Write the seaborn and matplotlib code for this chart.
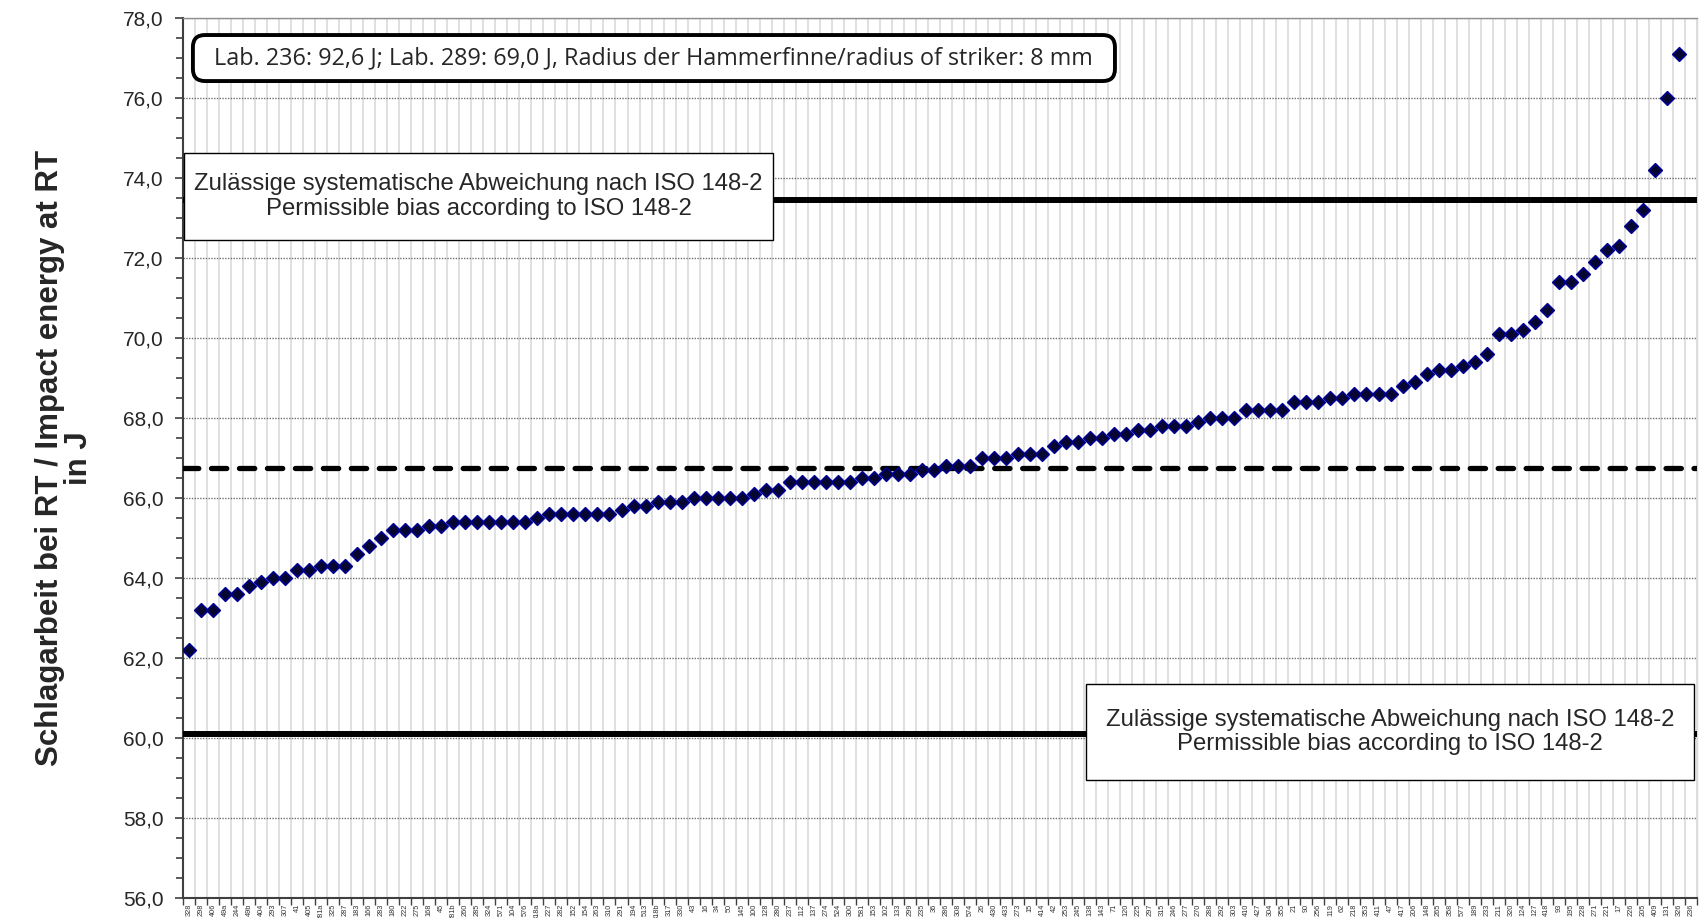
import numpy as np
import pandas as pd
import matplotlib
matplotlib.use("Agg")
import matplotlib.pyplot as plt
from matplotlib.patches import FancyBboxPatch
from matplotlib.ticker import MultipleLocator, FuncFormatter
import seaborn as sns

sns.set_theme(style="white")
plt.rcParams['font.family'] = ['Liberation Sans', 'DejaVu Sans']

# participating labs, sorted by result
labs = ["328", "298", "406", "49a", "244", "49b", "404", "293", "307", "41",
        "405", "281a", "325", "287", "183", "166", "283", "180", "222", "275",
        "168", "45", "281b", "260", "285", "324", "571", "104", "576", "318a",
        "227", "282", "152", "154", "263", "310", "291", "194", "513", "318b",
        "317", "330", "43", "16", "34", "50", "145", "100", "128", "280",
        "237", "112", "137", "274", "524", "300", "581", "153", "102", "133",
        "299", "235", "36", "286", "308", "574", "26", "430", "433", "273",
        "15", "414", "42", "253", "245", "138", "143", "71", "120", "225",
        "297", "315", "246", "277", "270", "288", "292", "303", "410", "427",
        "304", "355", "21", "90", "256", "119", "62", "218", "353", "411",
        "47", "417", "206", "148", "265", "358", "577", "189", "233", "211",
        "320", "124", "127", "418", "93", "195", "228", "271", "221", "17",
        "226", "205", "409", "131", "326", "236"]

energy = [62.2, 63.2, 63.2, 63.6, 63.6, 63.8, 63.9, 64.0, 64.0, 64.2,
          64.2, 64.3, 64.3, 64.3, 64.6, 64.8, 65.0, 65.2, 65.2, 65.2,
          65.3, 65.3, 65.4, 65.4, 65.4, 65.4, 65.4, 65.4, 65.4, 65.5,
          65.6, 65.6, 65.6, 65.6, 65.6, 65.6, 65.7, 65.8, 65.8, 65.9,
          65.9, 65.9, 66.0, 66.0, 66.0, 66.0, 66.0, 66.1, 66.2, 66.2,
          66.4, 66.4, 66.4, 66.4, 66.4, 66.4, 66.5, 66.5, 66.6, 66.6,
          66.6, 66.7, 66.7, 66.8, 66.8, 66.8, 67.0, 67.0, 67.0, 67.1,
          67.1, 67.1, 67.3, 67.4, 67.4, 67.5, 67.5, 67.6, 67.6, 67.7,
          67.7, 67.8, 67.8, 67.8, 67.9, 68.0, 68.0, 68.0, 68.2, 68.2,
          68.2, 68.2, 68.4, 68.4, 68.4, 68.5, 68.5, 68.6, 68.6, 68.6,
          68.6, 68.8, 68.9, 69.1, 69.2, 69.2, 69.3, 69.4, 69.6, 70.1,
          70.1, 70.2, 70.4, 70.7, 71.4, 71.4, 71.6, 71.9, 72.2, 72.3,
          72.8, 73.2, 74.2, 76.0, 77.1, 92.6]

mean_value = 66.77
lower_limit = 60.1
upper_limit = 73.45

note = "Lab. 236: 92,6 J; Lab. 289: 69,0 J, Radius der Hammerfinne/radius of striker: 8 mm"
bias_text = "Zulässige systematische Abweichung nach ISO 148-2\nPermissible bias according to ISO 148-2"
ylabel = "Schlagarbeit bei RT / Impact energy at RT\nin J"

df = pd.DataFrame({"pos": np.arange(len(labs)), "lab": labs, "energy": energy})

fig = plt.figure(figsize=(17, 9.18), dpi=100)
ax = fig.add_axes([0.1076, 0.02146, 0.8906, 0.9586])

# reference lines
ax.axhline(mean_value, color="black", lw=3.8, dashes=(2.9, 2.4),
           dash_capstyle="round", zorder=3)
ax.axhline(lower_limit, color="black", lw=4.3, solid_capstyle="round", zorder=3)
ax.axhline(upper_limit, color="black", lw=4.3, solid_capstyle="round", zorder=3)

sns.scatterplot(data=df, x="pos", y="energy", marker="D", s=48,
                color="#050530", edgecolor="#000090", linewidth=1.2,
                ax=ax, zorder=6, legend=False)

ax.set_xlim(-0.5, len(labs) - 0.5)
ax.set_ylim(56, 78)

# y axis
ax.yaxis.set_major_locator(MultipleLocator(2))
ax.yaxis.set_minor_locator(MultipleLocator(0.5))
ax.yaxis.set_major_formatter(FuncFormatter(lambda v, p: f"{v:.1f}".replace(".", ",")))
ax.tick_params(axis="y", which="major", direction="out", length=6, width=1.2,
               labelsize=15, pad=8, left=True, color="#404040")
ax.tick_params(axis="y", which="minor", direction="out", length=5, width=1.2,
               left=True, color="#404040")

# x axis: one category per lab, ticks at boundaries
ax.set_xticks(df["pos"])
ax.set_xticklabels(df["lab"], rotation=90, fontsize=5.3, color="#333333")
ax.xaxis.set_minor_locator(MultipleLocator(1, offset=0.5))
ax.tick_params(axis="x", which="major", length=0, pad=4)
ax.tick_params(axis="x", which="minor", direction="out", length=5, width=1.0,
               bottom=True, color="#404040")

ax.grid(False)
ax.grid(axis="x", which="minor", color="#e0e0e0", lw=1.4, zorder=0)
ax.grid(axis="y", which="major", color="#707070", lw=1.0, ls=(0, (1, 1)), zorder=0)
ax.set_axisbelow(True)

for side in ["left", "bottom"]:
    ax.spines[side].set_color("#404040")
    ax.spines[side].set_linewidth(1.5)
ax.spines["top"].set_color("#909090")
ax.spines["top"].set_linewidth(1.0)
ax.spines["right"].set_color("#d9d9d9")
ax.spines["right"].set_linewidth(1.0)

ax.set_xlabel("")
ax.set_ylabel(ylabel, fontsize=22.5, fontweight="bold", linespacing=0.95)
ax.yaxis.set_label_coords(-0.059, 0.5)

# annotation boxes
top_box = FancyBboxPatch((0.0066, 0.9287), 0.609, 0.0523,
                         boxstyle="round,pad=0,rounding_size=0.008",
                         transform=ax.transAxes, fc="white", ec="black",
                         lw=2.8, zorder=8, mutation_aspect=1.7)
ax.add_patch(top_box)
ax.text(0.311, 0.955, note, transform=ax.transAxes, ha="center", va="center",
        fontsize=16.8, family=["Open Sans", "DejaVu Sans"], zorder=9)

for (x0, y0, w, h) in [(0.0007, 0.748, 0.389, 0.099), (0.5964, 0.1344, 0.4016, 0.1091)]:
    ax.add_patch(plt.Rectangle((x0, y0), w, h, transform=ax.transAxes,
                               fc="white", ec="black", lw=1.0, zorder=8))
    ax.text(x0 + w / 2, y0 + h / 2, bias_text, transform=ax.transAxes,
            ha="center", va="center", fontsize=17.2, linespacing=1.15, zorder=9)

fig.savefig("out.png", dpi=100)
